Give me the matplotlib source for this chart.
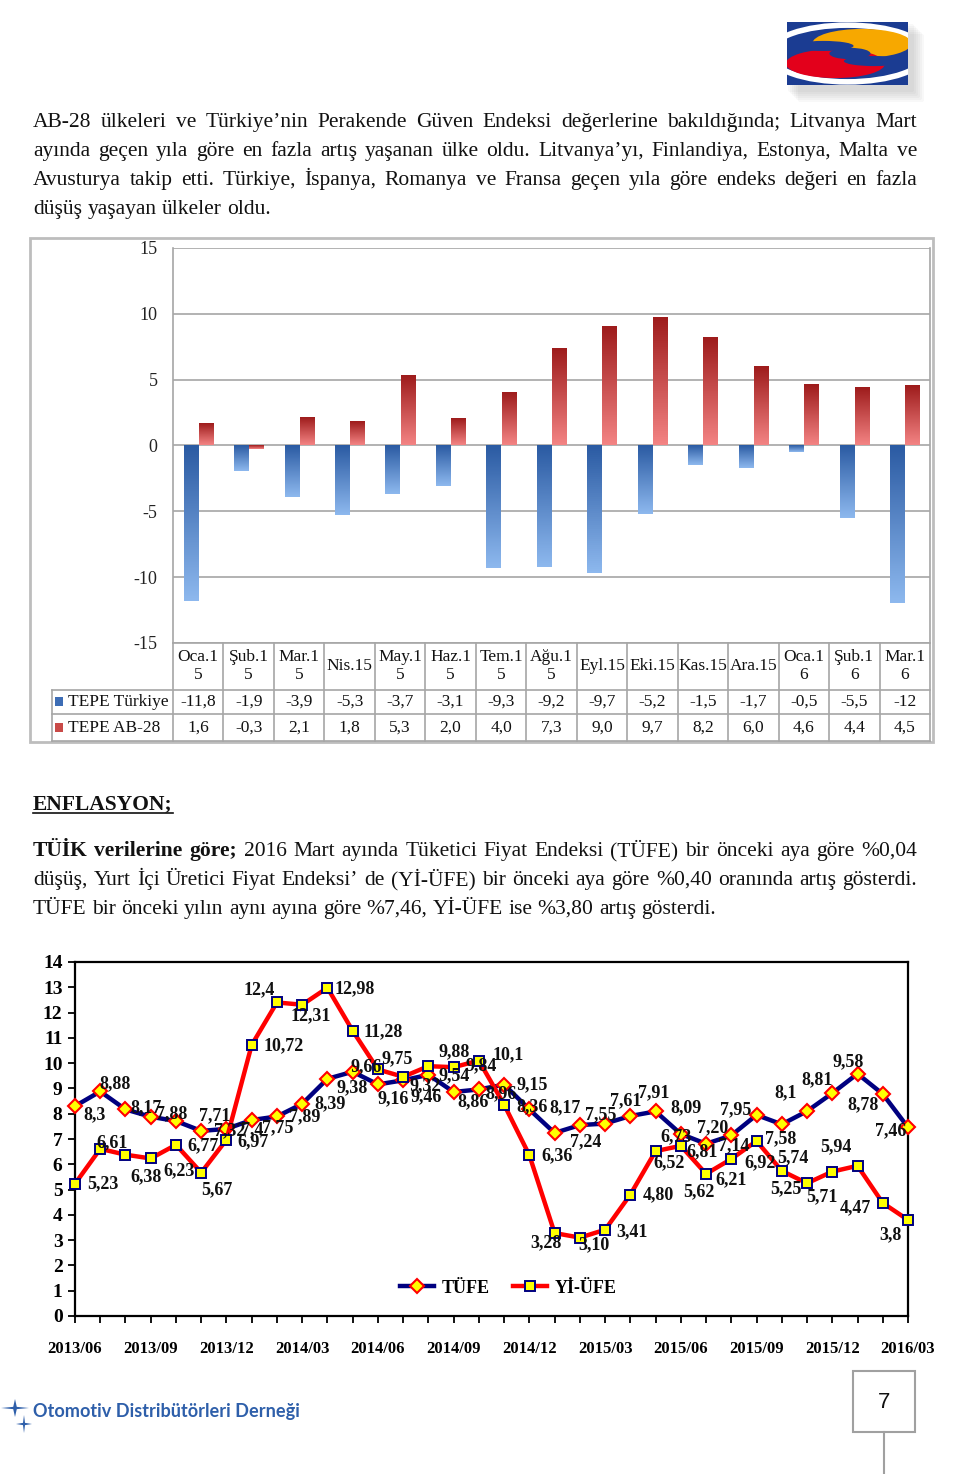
import numpy as np
import matplotlib
matplotlib.use("Agg")
import matplotlib.pyplot as plt
import matplotlib.patches as mpatches
import matplotlib.transforms as mtransforms
from matplotlib.colors import LinearSegmentedColormap

W, H = 960, 1474
SERIF = "Liberation Serif"
BODY = 15.5

# --- bar chart data (Perakende Güven Endeksi) ---
bar_months = ["Oca.1\n5", "Şub.1\n5", "Mar.1\n5", "Nis.15", "May.1\n5", "Haz.1\n5",
              "Tem.1\n5", "Ağu.1\n5", "Eyl.15", "Eki.15", "Kas.15", "Ara.15",
              "Oca.1\n6", "Şub.1\n6", "Mar.1\n6"]
tepe_tr = [-11.8, -1.9, -3.9, -5.3, -3.7, -3.1, -9.3, -9.2, -9.7, -5.2, -1.5, -1.7, -0.5, -5.5, -12]
tepe_ab = [1.6, -0.3, 2.1, 1.8, 5.3, 2.0, 4.0, 7.3, 9.0, 9.7, 8.2, 6.0, 4.6, 4.4, 4.5]
bar_yticks = [-15, -10, -5, 0, 5, 10, 15]

# --- line chart data (TÜFE / Yİ-ÜFE, 2013/06 - 2016/03) ---
tick_labels = ["2013/06", "2013/09", "2013/12", "2014/03", "2014/06", "2014/09",
               "2014/12", "2015/03", "2015/06", "2015/09", "2015/12", "2016/03"]
tufe = [8.30, 8.88, 8.17, 7.88, 7.71, 7.32, 7.40, 7.75, 7.89, 8.39, 9.38, 9.66,
        9.16, 9.32, 9.54, 8.86, 8.96, 9.15, 8.17, 7.24, 7.55, 7.61, 7.91, 8.09,
        7.20, 6.81, 7.14, 7.95, 7.58, 8.10, 8.81, 9.58, 8.78, 7.46]
yiufe = [5.23, 6.61, 6.38, 6.23, 6.77, 5.67, 6.97, 10.72, 12.40, 12.31, 12.98, 11.28,
         9.75, 9.46, 9.88, 9.84, 10.10, 8.36, 6.36, 3.28, 3.10, 3.41, 4.80, 6.52,
         6.73, 5.62, 6.21, 6.92, 5.74, 5.25, 5.71, 5.94, 4.47, 3.80]
tufe_txt = ["8,3", "8,88", "8,17", "7,88", "7,71", "7,32", "7,4", "7,75", "7,89", "8,39",
            "9,38", "9,66", "9,16", "9,32", "9,54", "8,86", "8,96", "9,15", "8,17", "7,24",
            "7,55", "7,61", "7,91", "8,09", "7,20", "6,81", "7,14", "7,95", "7,58", "8,1",
            "8,81", "9,58", "8,78", "7,46"]
yiufe_txt = ["5,23", "6,61", "6,38", "6,23", "6,77", "5,67", "6,97", "10,72", "12,4", "12,31",
             "12,98", "11,28", "9,75", "9,46", "9,88", "9,84", "10,1", "8,36", "6,36", "3,28",
             "3,10", "3,41", "4,80", "6,52", "6,73", "5,62", "6,21", "6,92", "5,74", "5,25",
             "5,71", "5,94", "4,47", "3,8"]

# label offsets in pixels (right, down) from each point
tufe_off = [(20, 9), (15, -8), (21, -2), (21, -3), (39, -5), (28, 0), (26, 1), (26, 8),
            (28, 0), (28, 0), (25, 9), (14, -5), (15, 14), (22, 5), (26, 1), (19, 10),
            (22, 4), (28, 0), (36, -2), (31, 9), (21, -10), (21, -23), (23, -23), (30, -4),
            (32, -6), (-4, 8), (2, 10), (-21, -5), (-1, 14), (-21, -18), (-15, -13),
            (-9, -12), (-20, 11), (-17, 3)]
yiufe_off = [(28, 0), (12, -6), (21, 22), (28, 12), (27, 1), (16, 17), (27, 2), (32, 1),
             (-18, -13), (9, 11), (27, 1), (31, 1), (19, -11), (23, 20), (26, -14), (28, -1),
             (29, -6), (28, 2), (28, 1), (-9, 10), (14, 7), (27, 2), (28, 0), (13, 12),
             (-5, -9), (-7, 18), (0, 21), (4, 22), (11, -13), (-21, 5), (-10, 25),
             (-22, -19), (-27, 5), (-18, 15)]


def fmt_tr(v):
    return str(int(v)) if v == int(v) else f"{v:.1f}".replace(".", ",")


def fmt_ab(v):
    return f"{v:.1f}".replace(".", ",")


fig = plt.figure(figsize=(W / 100, H / 100), dpi=100)
page = fig.add_axes([0, 0, 1, 1], zorder=0)
page.set_xlim(0, W)
page.set_ylim(H, 0)
page.axis("off")
renderer = fig.canvas.get_renderer()


def fig_rect(x0, y0, x1, y1):
    return [x0 / W, 1 - y1 / H, (x1 - x0) / W, (y1 - y0) / H]


def put_line(parts, y, size=BODY, justify=True, x0=33, x1=917):
    words = [(w, wt) for txt, wt in parts for w in txt.split(" ") if w]
    arts = [page.text(x0, y, w, fontsize=size, fontweight=wt, family=SERIF,
                      va="baseline", ha="left", color="#111111") for w, wt in words]
    widths = [a.get_window_extent(renderer).width for a in arts]
    if justify:
        gap = (x1 - x0 - sum(widths)) / (len(arts) - 1)
    else:
        t1 = page.text(0, 0, "x x", fontsize=size, family=SERIF)
        t2 = page.text(0, 0, "xx", fontsize=size, family=SERIF)
        gap = t1.get_window_extent(renderer).width - t2.get_window_extent(renderer).width
        t1.remove()
        t2.remove()
    x = x0
    for a, w in zip(arts, widths):
        a.set_x(x)
        x += w + gap


# ---------------- header logo ----------------
for k in range(6):
    page.add_patch(mpatches.FancyBboxPatch((790 + k * 2, 26 + k * 2), 122, 64,
                   boxstyle="round,pad=2", fc="#888888", ec="none", alpha=0.06))
logo = fig.add_axes(fig_rect(787, 22, 908, 85), zorder=2)
logo.set_xlim(0, 1)
logo.set_ylim(0, 1)
logo.axis("off")
logo.add_patch(mpatches.Rectangle((0, 0), 1, 1, fc="#1B3C92", ec="none"))
logo.add_patch(mpatches.Ellipse((0.5, 0.5), 1.3, 0.9, fill=False, ec="white", lw=4))
logo.add_patch(mpatches.Ellipse((0.62, 0.66), 0.82, 0.46, fc="#F7A800", ec="none"))
logo.add_patch(mpatches.Ellipse((0.40, 0.34), 0.82, 0.46, fc="#E3001B", ec="none"))
logo.add_patch(mpatches.Ellipse((0.52, 0.5), 0.34, 0.18, fc="#1B3C92", ec="none"))
logo.add_patch(mpatches.Ellipse((0.3, 0.62), 0.5, 0.16, fc="#1B3C92", ec="none"))
logo.add_patch(mpatches.Ellipse((0.72, 0.38), 0.5, 0.16, fc="#1B3C92", ec="none"))

# ---------------- paragraph 1 ----------------
put_line([("AB-28 ülkeleri ve Türkiye’nin Perakende Güven Endeksi değerlerine bakıldığında; Litvanya Mart", "normal")], 127)
put_line([("ayında geçen yıla göre en fazla artış yaşanan ülke oldu. Litvanya’yı, Finlandiya, Estonya, Malta ve", "normal")], 156)
put_line([("Avusturya takip etti.  Türkiye, İspanya, Romanya ve Fransa geçen yıla göre endeks değeri en fazla", "normal")], 185)
put_line([("düşüş yaşayan ülkeler oldu.", "normal")], 214, justify=False)

# ---------------- bar chart ----------------
page.add_patch(mpatches.Rectangle((30, 238), 903, 504, fill=False, ec="#BDBDBD", lw=2))
ax = fig.add_axes(fig_rect(173, 248, 930, 643), zorder=1)
x = np.arange(len(bar_months))
blue_bars = ax.bar(x - 0.15, tepe_tr, width=0.28, color="#4F81BD", zorder=2)
red_bars = ax.bar(x + 0.15, tepe_ab, width=0.28, color="#C0504D", zorder=2)
blue_cmap = LinearSegmentedColormap.from_list("b", ["#8DB8EE", "#2B5BA3"])
red_cmap = LinearSegmentedColormap.from_list("r", ["#F38383", "#9E1C1C"])
grad = np.linspace(0, 1, 64).reshape(-1, 1)
for bars, cmap in ((blue_bars, blue_cmap), (red_bars, red_cmap)):
    for b in bars:
        y0, y1 = sorted((b.get_y(), b.get_y() + b.get_height()))
        ax.imshow(grad, extent=[b.get_x(), b.get_x() + b.get_width(), y0, y1],
                  origin="lower", cmap=cmap, aspect="auto", zorder=3)
ax.set_xlim(-0.5, len(bar_months) - 0.5)
ax.set_ylim(-15, 15)
ax.set_yticks(bar_yticks)
ax.set_yticklabels([str(v) for v in bar_yticks], family=SERIF, fontsize=13, color="#222222")
ax.set_xticks([])
ax.tick_params(axis="y", length=0, pad=11)
ax.yaxis.grid(True, color="#A6A6A6", lw=1.2)
ax.set_axisbelow(True)
for s in ("left", "bottom", "right"):
    ax.spines[s].set_color("#A6A6A6")
    ax.spines[s].set_linewidth(1.2)
ax.spines["top"].set_visible(False)

# data table under the bars
tr = mtransforms.blended_transform_factory(ax.transData, page.transData)
gcol = "#A6A6A6"
for yy in (690, 714, 741):
    page.plot([52, 930], [yy, yy], color=gcol, lw=1.2)
page.plot([52, 52], [690, 741], color=gcol, lw=1.2)
page.plot([173, 173], [643, 741], color=gcol, lw=1.2)
for i in range(len(bar_months)):
    ax.plot([i + 0.5, i + 0.5], [643, 741], color=gcol, lw=1.2, transform=tr, clip_on=False)
    ax.text(i, 666, bar_months[i], transform=tr, ha="center", va="center", family=SERIF,
            fontsize=12.5, linespacing=1.15, color="#111111")
    ax.text(i, 702, fmt_tr(tepe_tr[i]), transform=tr, ha="center", va="center",
            family=SERIF, fontsize=12.5, color="#111111")
    ax.text(i, 728, fmt_ab(tepe_ab[i]), transform=tr, ha="center", va="center",
            family=SERIF, fontsize=12.5, color="#111111")
page.add_patch(mpatches.Rectangle((55, 697), 8, 9, fc="#3D6DB5", ec="none"))
page.add_patch(mpatches.Rectangle((55, 723), 8, 9, fc="#C94A48", ec="none"))
page.text(68, 702, "TEPE Türkiye", family=SERIF, fontsize=12.5, va="center", color="#111111")
page.text(68, 728, "TEPE AB-28", family=SERIF, fontsize=12.5, va="center", color="#111111")

# ---------------- paragraph 2 ----------------
t = page.text(33, 809, "ENFLASYON;", family=SERIF, fontsize=BODY, fontweight="bold",
              va="baseline", color="#111111")
wbox = t.get_window_extent(renderer).width
page.plot([33, 33 + wbox], [812.5, 812.5], color="#111111", lw=1.2)
put_line([("TÜİK verilerine göre;", "bold"),
          ("2016 Mart ayında Tüketici Fiyat Endeksi (TÜFE) bir önceki aya göre %0,04", "normal")], 856)
put_line([("düşüş, Yurt İçi Üretici Fiyat Endeksi’ de (Yİ-ÜFE) bir önceki aya göre %0,40 oranında artış gösterdi.", "normal")], 885)
put_line([("TÜFE bir önceki yılın aynı ayına göre %7,46, Yİ-ÜFE ise %3,80 artış gösterdi.", "normal")], 914, justify=False)

# ---------------- line chart ----------------
ax2 = fig.add_axes(fig_rect(75, 962, 908, 1316), zorder=1)
xs = np.arange(len(tufe))
ax2.plot(xs, tufe, color="#000080", lw=3.2, marker="D", ms=7, mfc="#FFFF00", mec="#FF0000",
         mew=1.5, label="TÜFE", zorder=3, clip_on=False)
ax2.plot(xs, yiufe, color="#FF0000", lw=3.2, marker="s", ms=7, mfc="#FFFF00", mec="#000080",
         mew=1.4, label="Yİ-ÜFE", zorder=4, clip_on=False)
for series, texts, offs in ((tufe, tufe_txt, tufe_off), (yiufe, yiufe_txt, yiufe_off)):
    for i, (v, s, (dx, dy)) in enumerate(zip(series, texts, offs)):
        ax2.annotate(s, (i, v), xytext=(dx, -dy), textcoords="offset pixels", ha="center",
                     va="center", family=SERIF, fontsize=13, fontweight="bold",
                     color="#111111", zorder=6, annotation_clip=False)
ax2.set_xlim(0, len(tufe) - 1)
ax2.set_ylim(0, 14)
ax2.set_xticks(np.arange(0, len(tufe), 3))
ax2.set_xticklabels(tick_labels, family=SERIF, fontsize=12, fontweight="bold")
ax2.set_xticks(xs, minor=True)
ax2.set_yticks(np.arange(0, 15))
ax2.set_yticklabels([str(v) for v in range(15)], family=SERIF, fontsize=14, fontweight="bold")
ax2.tick_params(axis="x", which="both", direction="out", length=5, width=1.3, pad=13)
ax2.tick_params(axis="y", direction="out", length=5, width=1.3, pad=4)
for s in ax2.spines.values():
    s.set_linewidth(1.6)
    s.set_color("#000000")
ax2.legend(loc="center", bbox_to_anchor=(0.52, 0.079), ncol=2, frameon=False, numpoints=1,
           prop=dict(family=SERIF, weight="bold", size=13), handlelength=1.9,
           handletextpad=0.4, columnspacing=1.3)

# ---------------- footer ----------------
def star(cx, cy, rx, ry):
    pts = []
    for k in range(8):
        ang = np.pi / 2 + k * np.pi / 4
        f = 1.0 if k % 2 == 0 else 0.18
        pts.append((cx + rx * f * np.cos(ang), cy - ry * f * np.sin(ang)))
    return mpatches.Polygon(pts, closed=True, fc="#2E5FAA", ec="none")


page.add_patch(star(15, 1408, 14, 9))
page.add_patch(star(24, 1424, 8, 9))
ft = page.text(33, 1412, "Otomotiv Distribütörleri Derneği", family="Lato", fontweight="bold",
               fontsize=10, va="center", color="#2E5FAA")
fw = ft.get_window_extent(renderer).width
ft.set_fontsize(10 * 267 / fw)
page.add_patch(mpatches.Rectangle((853, 1371), 62, 61, fill=False, ec="#A0A0A0", lw=1.5))
page.text(884, 1402, "7", family="Liberation Sans", fontsize=16, ha="center", va="center",
          color="#111111")
page.plot([884, 884], [1432, 1474], color="#A0A0A0", lw=1.5)

fig.savefig("out.png", dpi=100)
